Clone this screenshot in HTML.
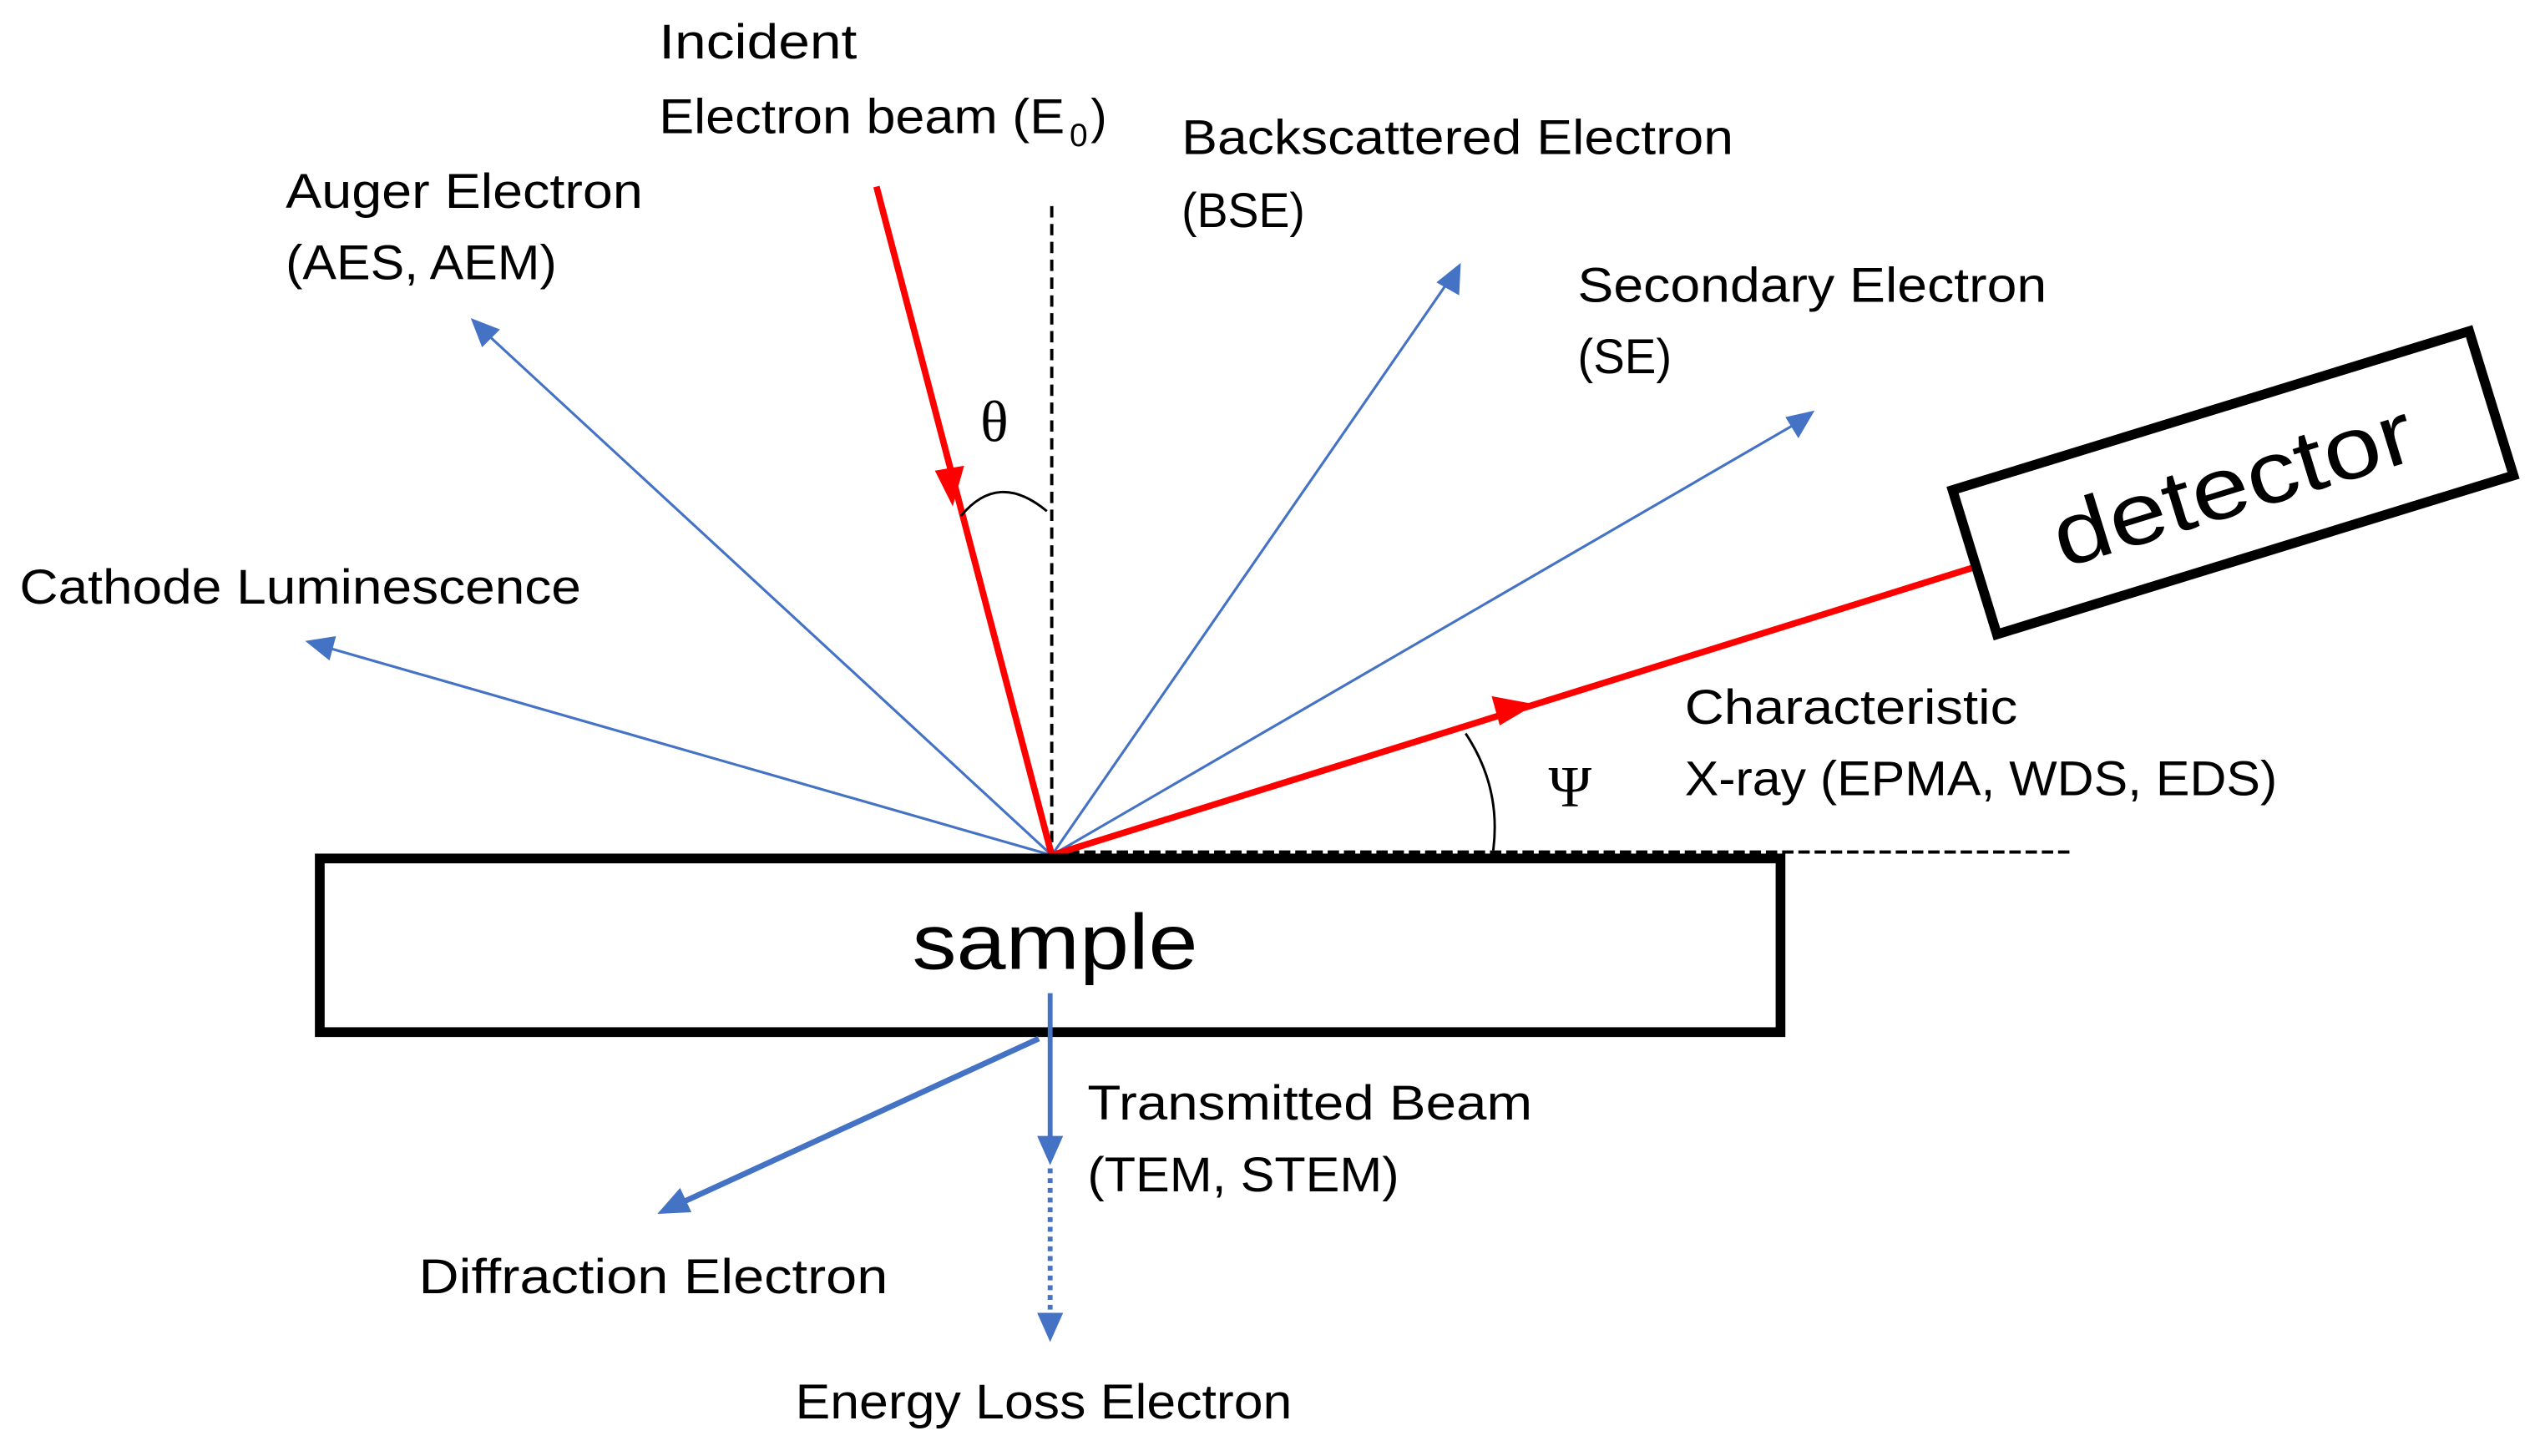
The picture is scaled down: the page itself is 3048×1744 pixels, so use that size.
<!DOCTYPE html>
<html><head><meta charset="utf-8"><style>
html,body{margin:0;padding:0;background:#fff;}
svg{display:block;}
text{font-family:"Liberation Sans",sans-serif;fill:#000;}
</style></head><body>
<svg width="3048" height="1744" viewBox="0 0 1568 897.2" xmlns="http://www.w3.org/2000/svg">
<g stroke-linecap="butt">
<line x1="648" y1="127" x2="648" y2="527" stroke="#000" stroke-width="2" stroke-dasharray="7,4"/>
<line x1="648" y1="525" x2="1278" y2="525" stroke="#000" stroke-width="2" stroke-dasharray="7,3"/>
<g stroke="#4472C4" stroke-width="1.6">
<line x1="648" y1="527" x2="298" y2="204"/>
<line x1="648" y1="527" x2="198" y2="398"/>
<line x1="648" y1="527" x2="894" y2="171"/>
<line x1="648" y1="527" x2="1110" y2="259"/>
</g>
<g fill="#4472C4">
<polygon points="290,196 308,203 297,214"/>
<polygon points="188,395 207,392 203,407"/>
<polygon points="900,162 899,182 885,174"/>
<polygon points="1118,253 1108,270 1100,257"/>
</g>
<line x1="540" y1="115" x2="648" y2="527" stroke="#FF0000" stroke-width="4"/>
<polygon points="587,312 576,290 594,287" fill="#FF0000"/>
<line x1="648" y1="527" x2="1215" y2="350" stroke="#FF0000" stroke-width="4"/>
<polygon points="946,434 924,447 919,429" fill="#FF0000"/>
<path d="M592,318 Q615,290 645,315" fill="none" stroke="#000" stroke-width="1.5"/>
<path d="M903,452 Q925,485 920,524" fill="none" stroke="#000" stroke-width="1.5"/>
<g transform="translate(1203,302) rotate(-17.1)">
<rect x="0" y="0" width="333" height="93" fill="#fff" stroke="#000" stroke-width="6"/>
<text x="166" y="66" font-size="54" text-anchor="middle" textLength="230" lengthAdjust="spacingAndGlyphs">detector</text>
</g>
<rect x="197" y="529" width="900" height="107" fill="#fff" stroke="#000" stroke-width="6"/>
<text x="650" y="597" font-size="48" text-anchor="middle" textLength="176" lengthAdjust="spacingAndGlyphs">sample</text>
<line x1="647" y1="612" x2="647" y2="705" stroke="#4472C4" stroke-width="3"/>
<polygon points="647,718 639,700 655,700" fill="#4472C4"/>
<line x1="647" y1="720" x2="647" y2="812" stroke="#4472C4" stroke-width="3" stroke-dasharray="3,3"/>
<polygon points="647,827 639,809 655,809" fill="#4472C4"/>
<line x1="640" y1="640" x2="418" y2="742" stroke="#4472C4" stroke-width="3.5"/>
<polygon points="405,748 419,732 426,747" fill="#4472C4"/>
</g>
<g font-size="30">
<text x="406" y="36" textLength="122" lengthAdjust="spacingAndGlyphs">Incident</text>
<text x="406" y="82" textLength="250" lengthAdjust="spacingAndGlyphs">Electron beam (E</text>
<text x="659" y="90" font-size="20">0</text>
<text x="672" y="82">)</text>
<text x="728" y="95" textLength="340" lengthAdjust="spacingAndGlyphs">Backscattered Electron</text>
<text x="728" y="140" textLength="76" lengthAdjust="spacingAndGlyphs">(BSE)</text>
<text x="176" y="128" textLength="220" lengthAdjust="spacingAndGlyphs">Auger Electron</text>
<text x="176" y="172" textLength="167" lengthAdjust="spacingAndGlyphs">(AES, AEM)</text>
<text x="972" y="186" textLength="289" lengthAdjust="spacingAndGlyphs">Secondary Electron</text>
<text x="972" y="230" textLength="58" lengthAdjust="spacingAndGlyphs">(SE)</text>
<text x="12" y="372" textLength="346" lengthAdjust="spacingAndGlyphs">Cathode Luminescence</text>
<text x="1038" y="446" textLength="205" lengthAdjust="spacingAndGlyphs">Characteristic</text>
<text x="1038" y="490" textLength="365" lengthAdjust="spacingAndGlyphs">X-ray (EPMA, WDS, EDS)</text>
<text x="670" y="690" textLength="274" lengthAdjust="spacingAndGlyphs">Transmitted Beam</text>
<text x="670" y="734" textLength="192" lengthAdjust="spacingAndGlyphs">(TEM, STEM)</text>
<text x="258" y="797" textLength="289" lengthAdjust="spacingAndGlyphs">Diffraction Electron</text>
<text x="490" y="874" textLength="306" lengthAdjust="spacingAndGlyphs">Energy Loss Electron</text>
<text x="604" y="272" font-size="36" style="font-family:'Liberation Serif',serif">θ</text>
<text x="954" y="497" font-size="36" style="font-family:'Liberation Serif',serif">Ψ</text>
</g>
</svg>
</body></html>
